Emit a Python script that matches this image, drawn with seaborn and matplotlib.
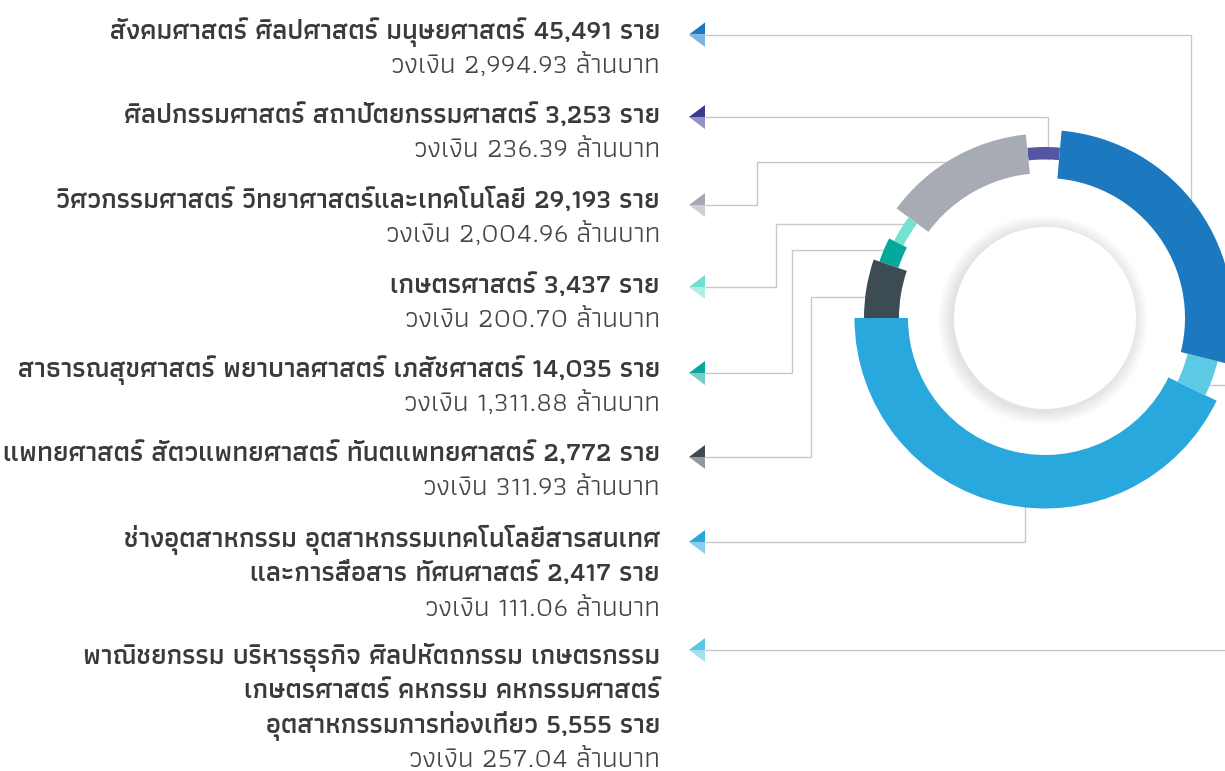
import matplotlib
matplotlib.use("Agg")
import matplotlib.pyplot as plt
import seaborn as sns
from matplotlib.patches import Circle, Polygon

# ---------------- data ----------------
categories = [
    "สังคมศาสตร์ ศิลปศาสตร์ มนุษยศาสตร์",
    "ศิลปกรรมศาสตร์ สถาปัตยกรรมศาสตร์",
    "วิศวกรรมศาสตร์ วิทยาศาสตร์และเทคโนโลยี",
    "เกษตรศาสตร์",
    "สาธารณสุขศาสตร์ พยาบาลศาสตร์ เภสัชศาสตร์",
    "แพทยศาสตร์ สัตวแพทยศาสตร์ ทันตแพทยศาสตร์",
    "ช่างอุตสาหกรรม อุตสาหกรรมเทคโนโลยีสารสนเทศ\nและการสื่อสาร ทัศนศาสตร์",
    "พาณิชยกรรม บริหารธุรกิจ ศิลปหัตถกรรม เกษตรกรรม\nเกษตรศาสตร์ คหกรรม คหกรรมศาสตร์\nอุตสาหกรรมการท่องเที่ยว",
]
counts = [45491, 3253, 29193, 3437, 14035, 2772, 2417, 5555]
amounts = [2994.93, 236.39, 2004.96, 200.70, 1311.88, 311.93, 111.06, 257.04]
label_colors = ["#1b79c2", "#3a3a90", "#a4a8b1", "#6fe0cf",
                "#08a79a", "#3d4a52", "#29a8dc", "#5cc7e6"]

# donut segments as drawn (from 9 o'clock, through the bottom)
ring_values = [45491, 3437, 29193, 3253, 14035, 2772, 2417, 5555]
ring_colors = ["#28a8dc", "#5ccae5", "#1c79bf", "#5456a2",
               "#a7abb4", "#72e3d0", "#05a99c", "#3d4b52"]

# ---------------- layout ----------------
W, H = 1225, 771
center = (1045, 318)
ring_inner = [137, 147, 140, 158.5, 145, 159, 155, 146]
ring_outer = [190.5, 178, 188, 171, 184.5, 169.5, 175, 181]
hole_r = 91

text_right = 660
first_baselines = [39, 123, 208, 293, 377, 461, 547, 664]
line_step = 34.3
arrow_y = [34.5, 117, 205, 287, 373, 457, 542, 650]
arrow_tip, arrow_base, arrow_half = 689, 705, 12
routes = [
    [(1191, 34.5), (1191, 215)],
    [(1048, 117), (1048, 160)],
    [(757, 205), (757, 162), (955, 162)],
    [(776, 287), (776, 224), (912, 224)],
    [(792, 373), (792, 250), (895, 250)],
    [(811, 457), (811, 297), (875, 297)],
    [(1025, 542), (1025, 500)],
    [(1240, 650), (1240, 385), (1200, 385)],
]
line_col = "#c9c9c9"
fit_rows = [0, 2, 4, 5]
fit_widths = [555, 600, 650, 652]

sns.set_theme(style="white")
plt.rcParams["font.family"] = ["Athiti", "DejaVu Sans"]
palette = sns.color_palette(ring_colors)

fig = plt.figure(figsize=(W / 100, H / 100), dpi=100)
ax = fig.add_axes([0, 0, 1, 1])

wedges, _ = ax.pie(ring_values, colors=palette, startangle=180,
                   counterclock=False, center=center, radius=190,
                   wedgeprops=dict(width=50, linewidth=0))
for w, ri, ro in zip(wedges, ring_inner, ring_outer):
    w.set_radius(ro)
    w.set_width(ro - ri)
    w.set_zorder(3)

ax.set_xlim(0, W)
ax.set_ylim(H, 0)
ax.set_aspect("auto")
ax.axis("off")

# inner white disc with soft shadow
n = 14
for i in range(n):
    ax.add_patch(Circle((center[0] - 2, center[1] + 2), hole_r + n - i,
                        facecolor="#9a9a9a", alpha=0.017, lw=0, zorder=2))
ax.add_patch(Circle(center, hole_r, facecolor="white", lw=0, zorder=2.5))

# connectors and arrows
for y, route, col in zip(arrow_y, routes, label_colors):
    xs = [arrow_base] + [p[0] for p in route]
    ys = [y] + [p[1] for p in route]
    ax.plot(xs, ys, color=line_col, lw=1.0, zorder=1,
            solid_joinstyle="miter", solid_capstyle="butt")
    ax.add_patch(Polygon([(arrow_tip, y), (arrow_base, y - arrow_half),
                          (arrow_base, y)], closed=True, facecolor=col,
                         lw=0, zorder=4))
    ax.add_patch(Polygon([(arrow_tip, y), (arrow_base, y),
                          (arrow_base, y + arrow_half)], closed=True,
                         facecolor=col, alpha=0.55, lw=0, zorder=4))

# text: fit size so the text widths match the reference
renderer = fig.canvas.get_renderer()
tot = 0.0
for i in fit_rows:
    probe = ax.text(0, 0, f"{categories[i]} {counts[i]:,} ราย", fontsize=20,
                    fontweight="semibold")
    tot += probe.get_window_extent(renderer).width
    probe.remove()
fs1 = 20 * sum(fit_widths) / tot
probe = ax.text(0, 0, f"วงเงิน {amounts[0]:,.2f} ล้านบาท", fontsize=20,
                fontweight="normal")
w2 = probe.get_window_extent(renderer).width
probe.remove()
fs2 = 20 * 270 / w2

for cat, cnt, amt, yb in zip(categories, counts, amounts, first_baselines):
    lines = cat.split("\n")
    lines[-1] = f"{lines[-1]} {cnt:,} ราย"
    for k, ln in enumerate(lines):
        ax.text(text_right, yb + k * line_step, ln, ha="right", va="baseline",
                fontsize=fs1, fontweight="semibold", color="#3a3a3a")
    ax.text(text_right, yb + len(lines) * line_step,
            f"วงเงิน {amt:,.2f} ล้านบาท", ha="right", va="baseline",
            fontsize=fs2, fontweight="normal", color="#454545")

fig.savefig("out.png", dpi=100, facecolor="white")
